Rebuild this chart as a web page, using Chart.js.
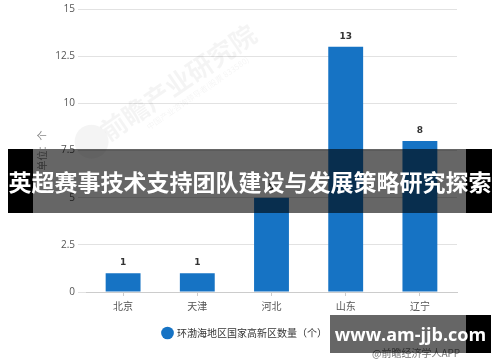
<!DOCTYPE html>
<html>
<head>
<meta charset="utf-8">
<script src="https://cdn.jsdelivr.net/npm/chart.js@4.4.0/dist/chart.umd.min.js"></script>
<style>
	html, body { margin: 0; padding: 0; background: #fff; }
	#wrap { position: relative; width: 500px; height: 362px; overflow: hidden; font-family: "Noto Sans CJK SC", "Noto Sans", sans-serif; }
	#wrap canvas { position: absolute; left: 0; top: 0; }
	.blk { position: absolute; background: #000; }
	.shade { position: absolute; background: rgba(0,0,0,0.6); }
	.banner-text { position: absolute; left: 0; width: 500px; top: 149px; height: 64px; line-height: 64px; text-align: center; color: #fff; font-weight: bold; font-size: 23px; letter-spacing: 0px; white-space: nowrap; }
	.site-text { position: absolute; left: 330px; width: 161px; top: 315px; height: 38px; line-height: 38px; text-align: center; color: #fff; font-weight: bold; font-size: 18px; font-family: "Open Sans", sans-serif; white-space: nowrap; }
	.source { position: absolute; left: 372px; top: 345px; font-size: 10px; color: #777; white-space: nowrap; }
</style>
</head>
<body>
<div id="wrap">
	<canvas id="chart" width="500" height="362"></canvas>
	<div class="source">@前瞻经济学人APP</div>
	<div class="blk" style="left:8px;top:149px;width:25px;height:64px;"></div>
	<div class="shade" style="left:33px;top:149px;width:433px;height:64px;"></div>
	<div class="blk" style="left:466px;top:149px;width:26px;height:64px;"></div>
	<div class="banner-text">英超赛事技术支持团队建设与发展策略研究探索</div>
	<div class="shade" style="left:330px;top:315px;width:136px;height:38px;"></div>
	<div class="blk" style="left:466px;top:315px;width:25px;height:38px;"></div>
	<div class="site-text">www.am-jjb.com</div>
</div>
<script>
// data
var regions = ["北京", "天津", "河北", "山东", "辽宁"];
var parkCounts = [1, 1, 5, 13, 8];
var seriesName = "环渤海地区国家高新区数量（个）";
var yAxisTitle = "单位：个";
var yTicks = [0, 2.5, 5, 7.5, 10, 12.5, 15];

var barColor = "#1673c4";
var textColor = "#555";

//faint watermark behind the bars
var watermark = {
	id: "watermark",
	beforeDatasetsDraw: function(chart) {
		var ctx = chart.ctx;
		ctx.save();
		ctx.translate(170, 88);
		ctx.rotate(-0.6);
		ctx.fillStyle = "rgba(0,0,0,0.045)";
		ctx.font = "bold 26px 'Noto Sans CJK SC'";
		ctx.textAlign = "center";
		ctx.textBaseline = "middle";
		ctx.fillText("前瞻产业研究院", 10, 0);
		ctx.font = "8px 'Noto Sans CJK SC'";
		ctx.fillText("中国产业咨询领导者(股票 833580)", 20, 20);
		ctx.beginPath();
		ctx.arc(-95, 0, 17, 0, Math.PI * 2);
		ctx.fill();
		ctx.restore();
	}
};

//value labels on top of the bars
var barLabels = {
	id: "barLabels",
	afterDatasetsDraw: function(chart) {
		var ctx = chart.ctx;
		var meta = chart.getDatasetMeta(0);
		ctx.save();
		ctx.font = "bold 9px 'DejaVu Sans'";
		ctx.fillStyle = "#333";
		ctx.textAlign = "center";
		ctx.textBaseline = "middle";
		meta.data.forEach(function(bar, i) {
			ctx.fillText(parkCounts[i], bar.x, bar.y - 10);
		});
		ctx.restore();
	}
};

var ctx = document.getElementById("chart").getContext("2d");
var chart = new Chart(ctx, {
	type: "bar",
	data: {
		labels: regions,
		datasets: [{
			label: seriesName,
			data: parkCounts,
			backgroundColor: barColor,
			barPercentage: 0.94,
			categoryPercentage: 0.5
		}]
	},
	options: {
		responsive: false,
		animation: false,
		devicePixelRatio: 1,
		layout: {
			padding: { top: 0, right: 43, bottom: 14, left: 33 }
		},
		scales: {
			x: {
				grid: { display: true, drawOnChartArea: false, offset: false, tickLength: 4, color: "#ccc" },
				border: { color: "#ccc" },
				ticks: { color: textColor, font: { family: "Noto Sans CJK SC", size: 10 }, padding: 4 },
				afterFit: function(scale) { scale.height = 30; }
			},
			y: {
				min: 0,
				max: 15,
				afterBuildTicks: function(scale) {
					scale.ticks = yTicks.map(function(v) { return { value: v }; });
				},
				grid: { color: "#e2e2e2", tickLength: 8 },
				border: { display: false },
				ticks: { color: textColor, font: { family: "Open Sans", size: 10 }, padding: 3 },
				title: {
					display: true,
					text: yAxisTitle,
					color: "#888",
					font: { family: "Noto Sans CJK SC", size: 10 },
					padding: { top: 3, bottom: 0 }
				},
				afterFit: function(scale) { scale.width = 53; }
			}
		},
		plugins: {
			legend: {
				position: "bottom",
				labels: {
					usePointStyle: true,
					pointStyle: "circle",
					boxWidth: 9,
					boxHeight: 9,
					padding: 6,
					color: "#333",
					font: { family: "Noto Sans CJK SC", size: 10 }
				}
			},
			tooltip: { enabled: false }
		}
	},
	plugins: [watermark, barLabels]
});
</script>
</body>
</html>
